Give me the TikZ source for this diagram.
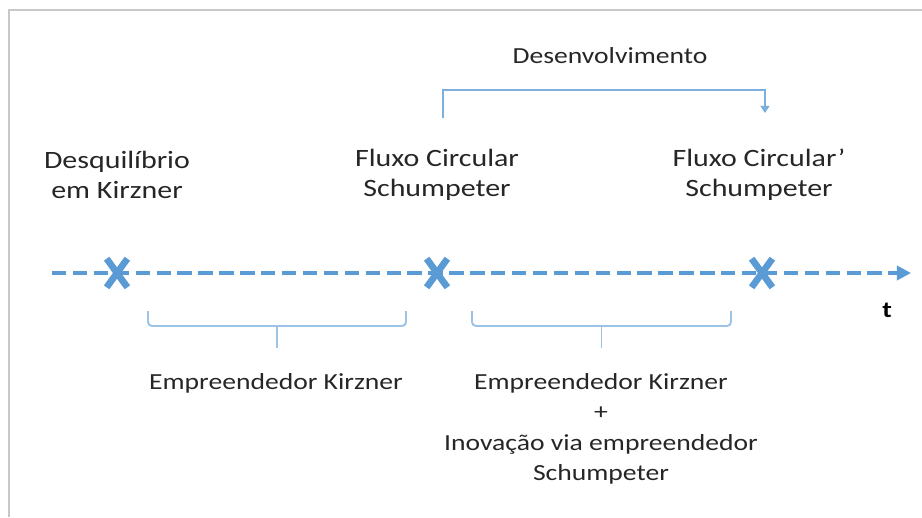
\documentclass[tikz,border=0pt]{standalone}
\usepackage{fontspec}
\setmainfont{Carlito}
\usetikzlibrary{arrows.meta,shapes.misc}
\definecolor{axisblue}{RGB}{91,155,213}
\definecolor{braceblue}{RGB}{157,195,230}
\definecolor{framegray}{RGB}{200,200,200}
\tikzset{
    headlabel/.style = {align = center, text = black!85, xscale = 1.2, inner sep = 0pt,
        font = \fontsize{14.2}{17}\selectfont},
    lowlabel/.style = {align = center, text = black!85, xscale = 1.2, inner sep = 0pt,
        font = \fontsize{13.1}{17.3}\selectfont},
    xmark/.style = {cross out, draw = axisblue, line width = 3.8pt, minimum width = 8pt, minimum height = 12.5pt, inner sep = 0pt},
    timeaxis/.style = {axisblue, line width = 2.4pt, dash pattern = on 8.2pt off 3.7pt, -{Triangle[length = 8pt, width = 8pt]}},
    bracket/.style = {braceblue, line width = 1.1pt, rounded corners = 2.3pt},
    devarrow/.style = {axisblue!80, line width = 0.9pt, -{Triangle[length = 4pt, width = 5pt]}}
}
\begin{document}
\begin{tikzpicture}[x = 0.02cm, y = -0.02cm]
        \useasboundingbox (0, 0) rectangle (922, 517);
        % frame
        \draw[framegray, line width = 1.2pt] (9, 517) -- (9, 10) -- (922, 10);
        % time axis
        \coordinate (a0) at (52, 273);
        \coordinate (a1) at (911, 273);
        \draw[timeaxis] (a0) -- (a1);
        \node[font = \bfseries\fontsize{13}{15}\selectfont, xscale = 1.2] (t) at (887, 310) {t};
        \foreach \k/\x in {1/117, 2/437, 3/762}{
            \node[xmark] (m\k) at (\x, 273) {};
        }
        % labels above the axis
        \node[headlabel] (desq) at (117, 175) {Desquilíbrio\\em Kirzner};
        \node[headlabel] (flux1) at (437, 175) {Fluxo Circular\\Schumpeter};
        \node[headlabel] (flux2) at (759, 175) {Fluxo Circular’\\Schumpeter};
        \node[lowlabel] (desen) at (610, 56) {Desenvolvimento};
        \coordinate (d0) at (443, 118);
        \coordinate (d1) at (765, 113);
        \draw[devarrow] (d0) -- ++(0, -28) -| (d1);
        % brackets below the axis
        \foreach \j/\l/\r in {1/148/406, 2/472/731}{
            \pgfmathsetmacro{\c}{(\l + \r) / 2}
            \coordinate (b\j) at (\c, 348);
            \draw[bracket] (\l, 311) -- (\l, 326) -- (\r, 326) -- (\r, 311);
            \draw[braceblue, line width = 1.1pt] (\c, 326) -- (b\j);
        }
        \node[lowlabel] (emp1) at (276, 383) {Empreendedor Kirzner};
        \node[lowlabel] (emp2) at (601, 429) {Empreendedor Kirzner\\+\\Inovação via empreendedor\\Schumpeter};
    \end{tikzpicture}
\end{document}
